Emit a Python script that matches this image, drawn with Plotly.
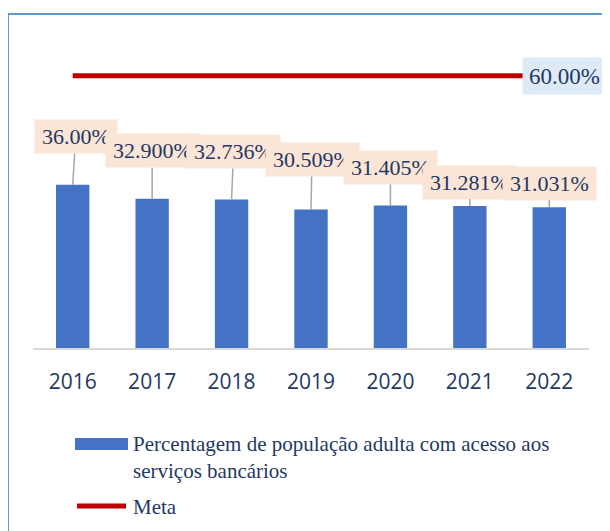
import plotly.graph_objects as go

# dados
ANOS = ["2016", "2017", "2018", "2019", "2020", "2021", "2022"]
ACESSO = [36.00, 32.900, 32.736, 30.509, 31.405, 31.281, 31.031]
ROTULOS = ["36.00%", "32.900%", "32.736%", "30.509%", "31.405%", "31.281%", "31.031%"]
META = [60, 60, 60, 60, 60, 60, 60]
ROTULO_META = "60.00%"

NOME_BARRAS = "Percentagem de população adulta com acesso aos<br>serviços bancários"
NOME_META = "Meta"

# a página tem margem de 8px: tudo em coordenadas de ecrã, descontado aqui
PAGE = 8
W, H = 602, 523
ML, MR, MT, MB = 25, 21, 22, 183
NAVY = "#1F3864"
SERIF = "'Times New Roman', 'Liberation Serif', 'DejaVu Serif', serif"


def px(x):
    return (x - PAGE - ML) / (W - ML - MR)


def py(y):
    return (H - MB - (y - PAGE)) / (H - MT - MB)


# deslocamento das etiquetas (px) em relação ao topo da barra
OFFSETS = [(3, -48), (0, -48), (2, -48), (1, -50), (0, -38), (0, -24), (0, -24)]

fig = go.Figure()
fig.add_trace(
    go.Bar(
        x=ANOS,
        y=ACESSO,
        name=NOME_BARRAS,
        marker=dict(color="#4472C4", line=dict(width=0)),
        width=0.42,
    )
)
fig.add_trace(
    go.Scatter(
        x=ANOS,
        y=META,
        name=NOME_META,
        mode="lines",
        line=dict(color="#C00000", width=5),
    )
)

for i, (val, txt, (dx, dy)) in enumerate(zip(ACESSO, ROTULOS, OFFSETS)):
    fig.add_annotation(
        x=i,
        y=val,
        text=txt,
        showarrow=True,
        arrowhead=0,
        arrowwidth=1.5,
        arrowcolor="#A6A6A6",
        standoff=0,
        ax=dx,
        ay=dy,
        bgcolor="#FBE5D6",
        borderpad=3,
        width=76 if len(txt) < 7 else 87,
        height=27,
        font=dict(family=SERIF, size=22, color=NAVY),
    )

fig.add_annotation(
    x=len(ANOS) - 1,
    y=META[-1],
    text=ROTULO_META,
    showarrow=False,
    xshift=15,
    bgcolor="#DEEBF7",
    borderpad=3,
    width=77,
    height=30,
    font=dict(family=SERIF, size=23, color=NAVY),
)

# moldura
fig.add_shape(
    type="rect", xref="paper", yref="paper",
    x0=px(8), x1=px(640), y0=py(14), y1=py(560),
    line=dict(color="#5B9BD5", width=2), fillcolor="rgba(0,0,0,0)",
    layer="below",
)

# legenda manual
fig.add_shape(
    type="rect", xref="paper", yref="paper",
    x0=px(75), x1=px(128), y0=py(438), y1=py(450),
    line=dict(width=0), fillcolor="#4472C4",
)
fig.add_shape(
    type="line", xref="paper", yref="paper",
    x0=px(77), x1=px(126), y0=py(506), y1=py(506),
    line=dict(color="#C00000", width=5),
)
fig.add_annotation(
    xref="paper", yref="paper", x=px(131), y=py(457),
    xanchor="left", yanchor="middle", align="left",
    text=NOME_BARRAS, showarrow=False,
    font=dict(family=SERIF, size=21, color=NAVY),
)
fig.add_annotation(
    xref="paper", yref="paper", x=px(131), y=py(507),
    xanchor="left", yanchor="middle", align="left",
    text=NOME_META, showarrow=False,
    font=dict(family=SERIF, size=21, color=NAVY),
)

fig.update_layout(
    width=W,
    height=H,
    margin=dict(l=ML, r=MR, t=MT, b=MB),
    showlegend=False,
    plot_bgcolor="white",
    paper_bgcolor="white",
    xaxis=dict(
        type="category",
        range=[-0.5, 6.5],
        showline=True,
        linecolor="#D9D9D9",
        linewidth=2,
        showgrid=False,
        ticks="",
        ticklabelstandoff=14,
        tickfont=dict(family="Open Sans, sans-serif", size=21, color=NAVY),
    ),
    yaxis=dict(range=[0, 70.1], visible=False, showgrid=False, zeroline=False),
)

fig.write_html("out.html")
